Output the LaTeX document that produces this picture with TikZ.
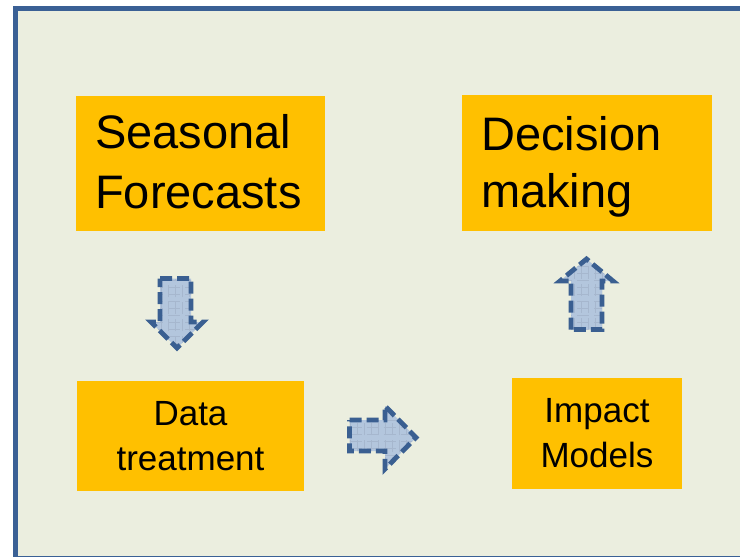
\documentclass[tikz,border=0pt]{standalone}
\usepackage{fontspec}
\setmainfont{Liberation Sans}
\definecolor{bgc}{HTML}{EBEEDF}
\definecolor{framec}{HTML}{3A6095}
\definecolor{boxc}{HTML}{FFC000}
\definecolor{arrc}{HTML}{3A5F91}
\definecolor{arrfill}{HTML}{B3C6DD}
\tikzset{
  orangebox/.style={rectangle, fill=boxc, inner sep=0pt},
  bigtext/.style={inner sep=0pt, align=left, anchor=west},
  smalltext/.style={inner sep=0pt, align=center, font=\fontsize{35}{45}\selectfont},
  blockarrow/.style={draw=arrc, line width=4.8pt, dash pattern=on 12pt off 5pt, fill=arrfill,
    path picture={\draw[arrc!45, line width=0.4pt, step=7pt] (path picture bounding box.south west) grid (path picture bounding box.north east);}},
}
\begin{document}
\begin{tikzpicture}[x=1pt,y=-1pt]
\useasboundingbox (0,0) rectangle (740,557);
\clip (0,0) rectangle (740,557);
\draw[framec, line width=5pt, fill=bgc] (15.5,8.5) rectangle (770,558.5);
\node[orangebox, minimum width=249pt, minimum height=135pt] (sf) at (200.5,163.5) {};
\node[bigtext, font=\fontsize{47}{60}\selectfont] (sft) at (95,162) {Seasonal\\Forecasts};
\node[orangebox, minimum width=250pt, minimum height=136pt] (dm) at (587,163) {};
\node[bigtext, font=\fontsize{47}{57}\selectfont] (dmt) at (481,167.3) {Decision\\making};
\node[orangebox, minimum width=227pt, minimum height=110pt] (dt) at (190.5,436) {};
\node[smalltext] (dtt) at (dt.center) {Data\\treatment};
\node[orangebox, minimum width=170pt, minimum height=111pt] (im) at (597,433.5) {};
\node[smalltext] (imt) at (im.center) {Impact\\Models};
% down arrow
\path[blockarrow] (160,278.5)--(191,278.5)--(191,322)--(203,322)--(177,348)--(151,322)--(160,322)--cycle;
% right arrow
\path[blockarrow] (349.5,420)--(385,420)--(385,406)--(416,437.5)--(385,469)--(385,451)--(349.5,451)--cycle;
% up arrow
\path[blockarrow] (571,329.5)--(571,281)--(560,281)--(586.5,259)--(613,281)--(602,281)--(602,329.5)--cycle;
\end{tikzpicture}
\end{document}
